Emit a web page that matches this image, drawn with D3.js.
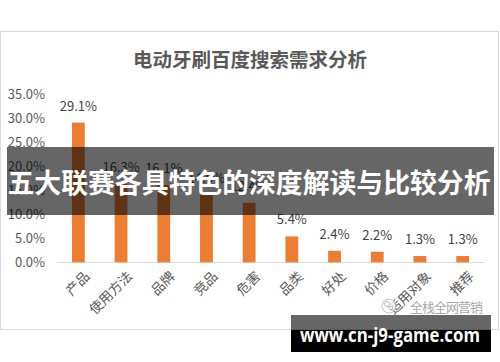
<!DOCTYPE html>
<html><head><meta charset="utf-8">
<script src="https://cdn.jsdelivr.net/npm/d3@7"></script>
<style>html,body{margin:0;padding:0;background:#fff;}svg{display:block;}</style>
</head><body>
<script>
const categories = ["产品","使用方法","品牌","竞品","危害","品类","好处","价格","适用对象","推荐"];
const values = [29.1,16.3,16.1,14.0,12.4,5.4,2.4,2.2,1.3,1.3];
const yTicks = [0,5,10,15,20,25,30,35];
const title = "电动牙刷百度搜索需求分析";
const bannerText = "五大联赛各具特色的深度解读与比较分析";
const siteText = "www.cn-j9-game.com";
const watermarkText = "全栈全网营销";

const W = 500, H = 362;
const svg = d3.select("body").append("svg").attr("width", W).attr("height", H);
const font = "'Noto Sans CJK SC','Noto Sans',sans-serif";

// frame
svg.append("rect").attr("x",0.5).attr("y",31.5).attr("width",498).attr("height",298)
  .attr("fill","#fff").attr("stroke","#d9d9d9");

svg.append("text").attr("x",250).attr("y",67).attr("text-anchor","middle")
  .attr("font-family",font).attr("font-weight","bold").attr("font-size",19.5)
  .attr("fill","#595959").text(title);

const x = d3.scaleBand().domain(categories).range([57,484]).paddingInner(0.7).paddingOuter(0.35);
const y = d3.scaleLinear().domain([0,35]).range([262.3,94.3]);

// y labels
const yAxis = d3.axisLeft(y).tickValues(yTicks).tickFormat(d => d.toFixed(1)+"%").tickSize(0).tickPadding(0);
const ya = svg.append("g").attr("transform","translate(45,0)").call(yAxis);
ya.select(".domain").remove();
ya.selectAll("text").attr("font-family",font).attr("font-size",13).attr("fill","#595959");

// x axis
const xAxis = d3.axisBottom(x).tickSize(0).tickFormat("");
const xa = svg.append("g").attr("transform","translate(0,262.5)").call(xAxis);
xa.select(".domain").attr("stroke","#d9d9d9").attr("d","M57,0H484");

svg.append("g").selectAll("text").data(categories).join("text")
  .attr("transform", d => `translate(${x(d)+x.bandwidth()/2+5},${270}) rotate(-45)`)
  .attr("text-anchor","end").attr("dy","0.75em")
  .attr("font-family",font).attr("font-size",13.5).attr("fill","#595959")
  .text(d => d);

// bars
svg.append("g").selectAll("rect").data(values).join("rect")
  .attr("x",(d,i)=>x(categories[i])).attr("width",x.bandwidth())
  .attr("y",d=>y(d)).attr("height",d=>y(0)-y(d)).attr("fill","#ED7D31");

svg.append("g").selectAll("text").data(values).join("text")
  .attr("x",(d,i)=>x(categories[i])+x.bandwidth()/2).attr("y",d=>y(d)-12)
  .attr("text-anchor","middle").attr("font-family",font).attr("font-size",13).attr("fill","#404040")
  .text(d=>d.toFixed(1)+"%");

// watermark
const wm = svg.append("g").attr("opacity",0.75);
wm.append("circle").attr("cx",389).attr("cy",306).attr("r",7).attr("fill","#fff").attr("stroke","#bbb").attr("stroke-width",1.2);
wm.append("circle").attr("cx",387).attr("cy",304).attr("r",2.5).attr("fill","none").attr("stroke","#aaa");
wm.append("circle").attr("cx",391).attr("cy",308).attr("r",2).attr("fill","none").attr("stroke","#aaa");
wm.append("text").attr("x",410).attr("y",312).attr("font-family",font).attr("font-size",13)
  .attr("fill","#8c8c8c").attr("textLength",73).text(watermarkText);

// top banner
svg.append("rect").attr("x",7).attr("y",147).attr("width",487).attr("height",68).attr("fill","rgba(0,0,0,0.6)");
svg.append("text").attr("x",249).attr("y",193).attr("text-anchor","middle")
  .attr("font-family",font).attr("font-weight","bold").attr("font-size",27).attr("fill","#fff")
  .attr("textLength",483).attr("lengthAdjust","spacingAndGlyphs").text(bannerText);

// bottom banner
svg.append("rect").attr("x",291).attr("y",315).attr("width",200).attr("height",15).attr("fill","rgba(0,0,0,0.6)");
svg.append("rect").attr("x",291).attr("y",330).attr("width",200).attr("height",22).attr("fill","#000");
svg.append("text").attr("x",390).attr("y",342).attr("text-anchor","middle")
  .attr("font-family","'Open Sans','DejaVu Sans',sans-serif").attr("font-weight","bold").attr("font-size",20).attr("fill","#fff")
  .attr("textLength",180).attr("lengthAdjust","spacingAndGlyphs").text(siteText);
</script>
</body></html>
